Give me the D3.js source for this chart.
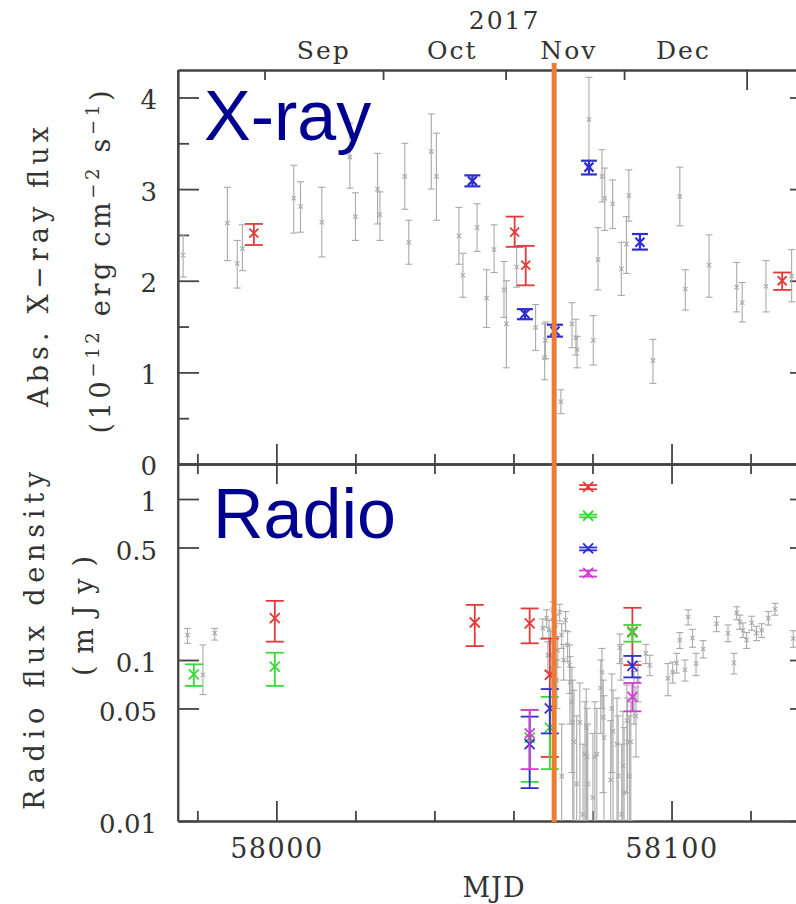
<!DOCTYPE html>
<html>
<head>
<meta charset="utf-8">
<title>X-ray and radio light curves</title>
<style>
  body { margin: 0; background: #fff; }
  svg { display: block; }
  text { font-family: "DejaVu Serif", serif; fill: #333; }
</style>
<script src="https://d3js.org/d3.v7.min.js"></script>
</head>
<body>
<svg id="chart"></svg>
<script>
// ---- X-ray panel (10^-12 erg cm^-2 s^-1) ----
var xrayGrayMjd  = [57976.4, 57987.6, 57990.1, 57991.4, 58004.4, 58006.1, 58011.5, 58018.6, 58020.0, 58025.6,
                    58026.2, 58032.5, 58033.5, 58039.2, 58040.5, 58046.2, 58047.2, 58050.8, 58053.2, 58055.1,
                    58057.6, 58058.2, 58060.8, 58065.6, 58068.1, 58067.9, 58072.0, 58074.8, 58075.8, 58076.1,
                    58079.1, 58080.2, 58081.4, 58082.4, 58083.1, 58085.1, 58087.3, 58088.6, 58089.2, 58095.3,
                    58102.1, 58103.5, 58109.5, 58116.5, 58117.9, 58123.9, 58130.4];
var xrayGrayFlux = [2.28, 2.63, 2.19, 2.35, 2.90, 2.81, 2.64, 3.35, 2.70, 3.00,
                    2.72, 3.14, 2.42, 3.41, 3.14, 2.49, 2.06, 2.58, 1.81, 2.34,
                    1.90, 1.53, 2.15, 1.49, 1.35, 1.16, 0.68, 1.53, 1.38, 1.25,
                    3.76, 1.35, 2.23, 3.14, 2.90, 2.84, 2.13, 2.40, 2.93, 1.13,
                    2.92, 1.91, 2.17, 1.93, 1.76, 1.94, 2.05];
var xrayGrayLo   = [2.04, 2.22, 1.92, 2.11, 2.52, 2.53, 2.26, 3.01, 2.44, 2.62,
                    2.44, 2.78, 2.18, 3.00, 2.66, 2.18, 1.82, 2.32, 1.49, 2.09,
                    1.60, 1.05, 1.93, 1.24, 1.15, 0.92, 0.55, 1.27, 1.19, 1.05,
                    3.24, 1.08, 1.90, 2.86, 2.55, 2.57, 1.84, 2.08, 2.65, 0.88,
                    2.60, 1.68, 1.82, 1.66, 1.55, 1.66, 1.77];
var xrayGrayHi   = [2.50, 3.02, 2.44, 2.61, 3.26, 3.08, 3.02, 3.72, 2.96, 3.39,
                    2.97, 3.50, 2.66, 3.82, 3.61, 2.80, 2.30, 2.84, 2.12, 2.61,
                    2.21, 2.00, 2.38, 1.74, 1.55, 1.53, 0.81, 1.76, 1.58, 1.39,
                    4.22, 1.62, 2.58, 3.43, 3.23, 3.10, 2.42, 2.70, 3.21, 1.36,
                    3.24, 2.12, 2.50, 2.20, 1.98, 2.22, 2.34];

var xrayRedMjd  = [57994.3, 58060.3, 58063.1, 58128.0];
var xrayRedFlux = [2.52, 2.53, 2.17, 2.00];
var xrayRedLo   = [2.39, 2.37, 1.95, 1.90];
var xrayRedHi   = [2.62, 2.70, 2.38, 2.09];

var xrayBlueMjd  = [58049.6, 58062.9, 58070.5, 58079.1, 58092.0];
var xrayBlueFlux = [3.09, 1.64, 1.45, 3.24, 2.42];
var xrayBlueLo   = [3.03, 1.58, 1.39, 3.16, 2.34];
var xrayBlueHi   = [3.15, 1.69, 1.52, 3.31, 2.51];

// ---- Radio panel (mJy) ----
var radioGrayMjd  = [57977.5, 57981.4, 57984.4,
                     58067.4, 58068.4, 58068.7, 58069.0, 58069.4, 58069.7, 58070.0, 58070.7, 58071.0, 58071.2,
                     58071.7, 58072.2, 58072.2, 58072.7, 58073.2, 58073.7, 58074.2, 58074.3, 58074.8, 58075.0,
                     58075.3, 58076.0, 58076.8, 58077.6, 58078.1, 58078.4, 58078.6, 58078.8, 58080.1, 58080.6,
                     58081.1, 58082.4, 58082.1, 58082.7, 58082.9, 58084.9, 58085.2, 58084.6, 58086.2, 58086.5,
                     58086.9, 58087.2, 58087.4, 58087.7, 58088.0, 58088.7, 58088.9, 58089.4, 58089.7, 58090.5,
                     58091.0, 58091.5, 58093.5, 58094.5,
                     58099.1, 58100.3, 58101.3, 58102.1, 58103.4, 58104.2, 58105.3, 58106.2, 58108.0, 58111.4,
                     58114.3, 58115.8, 58116.5, 58117.3, 58118.1, 58119.0, 58120.3, 58121.5, 58122.8, 58124.5,
                     58126.2, 58130.8];
var radioGrayFlux = [0.143, 0.081, 0.147,
                     0.158, 0.182, 0.107, 0.153, 0.129, 0.089, 0.205, 0.165, 0.075, 0.115,
                     0.199, 0.143, 0.019, 0.100, 0.177, 0.124, 0.093, 0.073, 0.055, 0.041,
                     0.031, 0.017, 0.041, 0.011, 0.026, 0.038, 0.025, 0.017, 0.014, 0.025,
                     0.026, 0.084, 0.067, 0.044, 0.033, 0.050, 0.036, 0.018, 0.030, 0.019,
                     0.119, 0.100, 0.011, 0.022, 0.015, 0.042, 0.031, 0.019, 0.031, 0.060,
                     0.045, 0.075, 0.110, 0.093,
                     0.077, 0.084, 0.096, 0.133, 0.087, 0.185, 0.137, 0.095, 0.117, 0.168,
                     0.147, 0.096, 0.196, 0.172, 0.153, 0.133, 0.170, 0.147, 0.153, 0.182,
                     0.207, 0.136];
var radioGrayLo   = [0.127, 0.061, 0.133,
                     0.135, 0.160, 0.085, 0.130, 0.105, 0.068, 0.180, 0.140, 0.050, 0.090,
                     0.175, 0.118, 0.006, 0.075, 0.152, 0.098, 0.062, 0.040, 0.020, 0.008,
                     0.006, 0.005, 0.010, 0.005, 0.006, 0.010, 0.006, 0.005, 0.005, 0.006,
                     0.008, 0.050, 0.035, 0.015, 0.008, 0.020, 0.008, 0.005, 0.006, 0.005,
                     0.095, 0.075, 0.005, 0.006, 0.005, 0.015, 0.008, 0.005, 0.010, 0.040,
                     0.025, 0.055, 0.095, 0.080,
                     0.060, 0.072, 0.083, 0.118, 0.074, 0.165, 0.120, 0.080, 0.103, 0.150,
                     0.130, 0.082, 0.178, 0.155, 0.138, 0.118, 0.153, 0.132, 0.138, 0.165,
                     0.190, 0.120];
var radioGrayHi   = [0.157, 0.124, 0.157,
                     0.180, 0.205, 0.130, 0.176, 0.152, 0.110, 0.230, 0.190, 0.100, 0.140,
                     0.222, 0.168, 0.040, 0.125, 0.200, 0.150, 0.124, 0.105, 0.090, 0.075,
                     0.065, 0.045, 0.072, 0.030, 0.055, 0.066, 0.050, 0.040, 0.035, 0.055,
                     0.050, 0.118, 0.100, 0.075, 0.060, 0.082, 0.065, 0.042, 0.058, 0.045,
                     0.145, 0.125, 0.030, 0.048, 0.038, 0.070, 0.058, 0.045, 0.055, 0.085,
                     0.068, 0.098, 0.125, 0.107,
                     0.095, 0.097, 0.110, 0.148, 0.100, 0.205, 0.155, 0.110, 0.132, 0.186,
                     0.165, 0.110, 0.214, 0.190, 0.170, 0.148, 0.187, 0.162, 0.168, 0.200,
                     0.225, 0.152];

var radioRedMjd  = [57999.6, 58050.2, 58064.1, 58069.2, 58078.9, 58090.1];
var radioRedFlux = [0.182, 0.171, 0.169, 0.081, 1.19, 0.150];
var radioRedLo   = [0.130, 0.122, 0.127, 0.025, 1.15, 0.093];
var radioRedHi   = [0.233, 0.220, 0.209, 0.136, 1.22, 0.211];

var radioGreenMjd  = [57979.1, 57999.6, 58064.1, 58069.2, 58078.9, 58090.1];
var radioGreenFlux = [0.0815, 0.091, 0.033, 0.038, 0.787, 0.148];
var radioGreenLo   = [0.069, 0.069, 0.0175, 0.021, 0.77, 0.130];
var radioGreenHi   = [0.094, 0.111, 0.049, 0.059, 0.80, 0.165];

var radioBlueMjd  = [58064.1, 58069.2, 58078.9, 58090.1];
var radioBlueFlux = [0.030, 0.050, 0.494, 0.092];
var radioBlueLo   = [0.016, 0.035, 0.48, 0.078];
var radioBlueHi   = [0.0445, 0.066, 0.50, 0.106];

var radioMagentaMjd  = [58064.1, 58078.9, 58090.1];
var radioMagentaFlux = [0.035, 0.348, 0.059];
var radioMagentaLo   = [0.021, 0.33, 0.048];
var radioMagentaHi   = [0.049, 0.36, 0.072];

// ---- axes ----
var mjdMajor = [58000, 58100];
var mjdMinor = [57980, 58020, 58040, 58060, 58080, 58120];
var xrayTicks = [0, 1, 2, 3, 4];
var xrayMinor = [0.5, 1.5, 2.5, 3.5];
var radioTicks = [0.01, 0.05, 0.1, 0.5, 1];
var monthStart = [57997, 58027, 58058, 58088, 58119];
var monthNames = ["Sep", "Oct", "Nov", "Dec"];
var monthLabelMjd = [58012, 58044.5, 58074, 58103];
var yearLabel = "2017";
var eventMjd = 58070.3;

var width = 796, height = 904;
var L = 178, R = 811, T = 70, M = 464, B = 821;

var svg = d3.select("#chart").attr("width", width).attr("height", height);
svg.append("rect").attr("width", width).attr("height", height).attr("fill", "#fff");

var x = d3.scaleLinear().domain([57975.1, 58135.3]).range([L, R]);
var yX = d3.scaleLinear().domain([0, 4.3]).range([M, T]);
var yR = d3.scaleLog().domain([0.01, 1.65]).range([B, M]);

var defs = svg.append("defs");
defs.append("clipPath").attr("id", "clipTop").append("rect")
  .attr("x", L).attr("y", T).attr("width", R - L).attr("height", M - T);
defs.append("clipPath").attr("id", "clipBot").append("rect")
  .attr("x", L).attr("y", M).attr("width", R - L).attr("height", B - M);

var axisColor = "#444";
function styleAxis(g) {
  g.selectAll("path.domain").attr("stroke", axisColor).attr("stroke-width", 1.8);
  g.selectAll(".tick line").attr("stroke", axisColor).attr("stroke-width", 1.8);
  g.selectAll("text").attr("font-family", "DejaVu Serif").attr("fill", "#333");
}
function addAxis(axis, tx, ty) {
  var g = svg.append("g").attr("transform", "translate(" + tx + "," + ty + ")").call(axis);
  styleAxis(g);
  return g;
}

// top panel y axes
var gl = addAxis(d3.axisLeft(yX).tickValues(xrayTicks).tickSize(-21).tickSizeOuter(0).tickPadding(21)
  .tickFormat(d3.format("d")), L, 0);
gl.selectAll("text").attr("font-size", 26).attr("dy", "0.42em");
addAxis(d3.axisLeft(yX).tickValues(xrayMinor).tickSize(-11).tickSizeOuter(0).tickFormat(""), L, 0);
addAxis(d3.axisRight(yX).tickValues(xrayTicks).tickSize(-21).tickSizeOuter(0).tickFormat(""), R, 0);
addAxis(d3.axisRight(yX).tickValues(xrayMinor).tickSize(-11).tickSizeOuter(0).tickFormat(""), R, 0);

// bottom panel y axes
var glr = addAxis(d3.axisLeft(yR).tickValues(radioTicks).tickSize(-21).tickSizeOuter(0).tickPadding(21)
  .tickFormat(function(d) { return String(d); }), L, 0);
glr.selectAll("text").attr("font-size", 26).attr("dy", "0.45em");
addAxis(d3.axisRight(yR).tickValues(radioTicks).tickSize(-21).tickSizeOuter(0).tickFormat(""), R, 0);

// shared x ticks (inward on each horizontal edge)
[[M, "bottom"], [M, "top"], [B, "bottom"]].forEach(function(e) {
  var mk = e[1] === "bottom" ? d3.axisBottom : d3.axisTop;
  addAxis(mk(x).tickValues(mjdMajor).tickSize(-20).tickSizeOuter(0).tickFormat(""), 0, e[0]);
  addAxis(mk(x).tickValues(mjdMinor).tickSize(-10).tickSizeOuter(0).tickFormat(""), 0, e[0]);
});
var gb = addAxis(d3.axisBottom(x).tickValues(mjdMajor).tickSize(0).tickSizeOuter(0).tickPadding(18)
  .tickFormat(function(d) { return String(d); }), 0, B);
gb.selectAll("text").attr("font-size", 27).attr("letter-spacing", 1.5);
gb.select("path.domain").remove();

// top calendar axis
addAxis(d3.axisTop(x).tickValues(monthStart.slice(0, 4)).tickSize(-10).tickSizeOuter(0).tickFormat(""), 0, T);
addAxis(d3.axisTop(x).tickValues(monthStart.slice(4)).tickSize(-20).tickSizeOuter(0).tickFormat(""), 0, T);
svg.append("g").selectAll("text").data(monthNames).enter().append("text")
  .attr("x", function(d, i) { return x(monthLabelMjd[i]); })
  .attr("y", 59).attr("text-anchor", "middle").attr("font-size", 25).attr("letter-spacing", 2)
  .text(function(d) { return d; });
svg.append("text").attr("x", x(monthStart[2]) - 1).attr("y", 29).attr("text-anchor", "middle")
  .attr("font-size", 25).attr("letter-spacing", 2).text(yearLabel);

// frame edges
svg.append("line").attr("x1", L).attr("x2", L).attr("y1", T).attr("y2", B)
  .attr("stroke", axisColor).attr("stroke-width", 1.8);
svg.append("line").attr("x1", R).attr("x2", R).attr("y1", T).attr("y2", B)
  .attr("stroke", axisColor).attr("stroke-width", 1.8);

// ---- marks ----
function drawSeries(g, mjd, flux, lo, hi, y, st) {
  var data = mjd.map(function(m, i) { return {m: m, v: flux[i], lo: lo[i], hi: hi[i]}; });
  var p = g.selectAll(null).data(data).enter().append("g")
    .attr("stroke", st.color).attr("stroke-width", st.w).attr("fill", "none");
  p.append("line")
    .attr("x1", function(d) { return x(d.m); }).attr("x2", function(d) { return x(d.m); })
    .attr("y1", function(d) { return y(d.lo); }).attr("y2", function(d) { return y(d.hi); });
  ["lo", "hi"].forEach(function(k) {
    p.append("line")
      .attr("x1", function(d) { return x(d.m) - st.cap; }).attr("x2", function(d) { return x(d.m) + st.cap; })
      .attr("y1", function(d) { return y(d[k]); }).attr("y2", function(d) { return y(d[k]); });
  });
  p.append("path").attr("d", function(d) {
    var cx = x(d.m), cy = y(d.v), s = st.s;
    return "M" + (cx - s) + "," + (cy - s) + "L" + (cx + s) + "," + (cy + s) +
           "M" + (cx - s) + "," + (cy + s) + "L" + (cx + s) + "," + (cy - s);
  });
}

var gray = {color: "#a9a9a9", w: 1.1, cap: 3.5, s: 2.2};
var gTop = svg.append("g").attr("clip-path", "url(#clipTop)");
drawSeries(gTop, xrayGrayMjd, xrayGrayFlux, xrayGrayLo, xrayGrayHi, yX, gray);
drawSeries(gTop, xrayRedMjd, xrayRedFlux, xrayRedLo, xrayRedHi, yX, {color: "#e23a3a", w: 1.8, cap: 9, s: 4.5});
drawSeries(gTop, xrayBlueMjd, xrayBlueFlux, xrayBlueLo, xrayBlueHi, yX, {color: "#2f2fd0", w: 2.2, cap: 8, s: 4.5});

var gBot = svg.append("g").attr("clip-path", "url(#clipBot)");
drawSeries(gBot, radioGrayMjd, radioGrayFlux, radioGrayLo, radioGrayHi, yR, gray);
drawSeries(gBot, radioRedMjd, radioRedFlux, radioRedLo, radioRedHi, yR, {color: "#e23a3a", w: 1.8, cap: 9, s: 5});
drawSeries(gBot, radioGreenMjd, radioGreenFlux, radioGreenLo, radioGreenHi, yR, {color: "#3ad83a", w: 1.8, cap: 9, s: 5});
drawSeries(gBot, radioBlueMjd, radioBlueFlux, radioBlueLo, radioBlueHi, yR, {color: "#2f2fd0", w: 1.8, cap: 9, s: 5});
drawSeries(gBot, radioMagentaMjd, radioMagentaFlux, radioMagentaLo, radioMagentaHi, yR, {color: "#d83ad8", w: 1.8, cap: 9, s: 5});

// event line
svg.append("line").attr("x1", x(eventMjd)).attr("x2", x(eventMjd)).attr("y1", 63).attr("y2", B + 1)
  .attr("stroke", "#ed7d31").attr("stroke-width", 5);

// panel names
svg.append("text").attr("x", 204).attr("y", 140)
  .attr("font-size", 70).style("fill", "#000090").style("font-family", "'Liberation Sans', Arial, sans-serif").text("X-ray");
svg.append("text").attr("x", 213).attr("y", 538)
  .attr("font-size", 70).style("fill", "#000090").style("font-family", "'Liberation Sans', Arial, sans-serif").text("Radio");

// axis titles
function vlabel(cx, cy, len, build) {
  var t = svg.append("text").attr("transform", "translate(" + cx + "," + cy + ") rotate(-90)")
    .attr("text-anchor", "middle").attr("font-size", 27)
    .attr("textLength", len).attr("lengthAdjust", "spacing");
  build(t);
}
vlabel(48, 267, 280, function(t) { t.text("Abs. X\u2212ray flux"); });
vlabel(110, 262, 343, function(t) {
  t.append("tspan").text("(10");
  t.append("tspan").attr("font-size", 18).attr("dy", -11).text("\u221212");
  t.append("tspan").attr("dy", 11).text(" erg cm");
  t.append("tspan").attr("font-size", 18).attr("dy", -11).text("\u22122");
  t.append("tspan").attr("dy", 11).text(" s");
  t.append("tspan").attr("font-size", 18).attr("dy", -11).text("\u22121");
  t.append("tspan").attr("dy", 11).text(")");
});
vlabel(44, 641, 338, function(t) { t.text("Radio flux density"); });
vlabel(93, 616, 120, function(t) { t.text("(mJy)"); });

svg.append("text").attr("x", 494).attr("y", 897).attr("text-anchor", "middle")
  .attr("font-size", 27).attr("letter-spacing", 1).text("MJD");
</script>
</body>
</html>
